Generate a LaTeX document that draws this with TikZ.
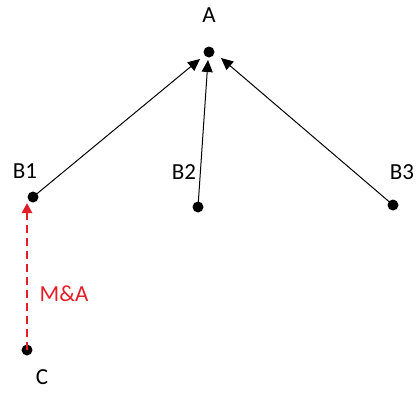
\documentclass[tikz,border=0pt]{standalone}
\usepackage{fontspec}
\setmainfont{Carlito}
\usetikzlibrary{arrows.meta}
\definecolor{mared}{RGB}{226,30,40}
\tikzset{
  dot/.style={circle,fill=black,inner sep=0pt,minimum size=11pt},
  lbl/.style={font=\fontsize{23}{25}\selectfont,inner sep=0pt},
  arr/.style={draw=black,line width=1pt,-{Triangle[length=12pt,width=11pt]}},
  redarr/.style={draw=mared,line width=2.6pt,dash pattern=on 8pt off 5pt,-{Triangle[length=10pt,width=10pt]}}
}
\begin{document}
\begin{tikzpicture}[x=1pt,y=-1pt]
\useasboundingbox (0,0) rectangle (416,392);
\node[dot] (A) at (209,52) {};
\node[dot] (B1) at (33,197) {};
\node[dot] (B2) at (198,207) {};
\node[dot] (B3) at (393,205) {};
\node[dot] (C) at (27,350) {};
\node[lbl] (tA) at (209,15) {A};
\node[lbl] (tB1) at (25,171) {B1};
\node[lbl] (tB2) at (184,172) {B2};
\node[lbl] (tB3) at (402,172) {B3};
\node[lbl] (tC) at (42,377) {C};
\node[lbl,text=mared] (tMA) at (64,294) {M\&A};
\coordinate (pA1) at (200,59);
\coordinate (pA2) at (208,60);
\coordinate (pA3) at (221,58);
\coordinate (pB1) at (27,203);
\path[arr] (B1.center) -- (pA1);
\path[arr] (B2.center) -- (pA2);
\path[arr] (B3.center) -- (pA3);
\path[redarr] (C.center) -- (pB1);
\end{tikzpicture}
\end{document}
